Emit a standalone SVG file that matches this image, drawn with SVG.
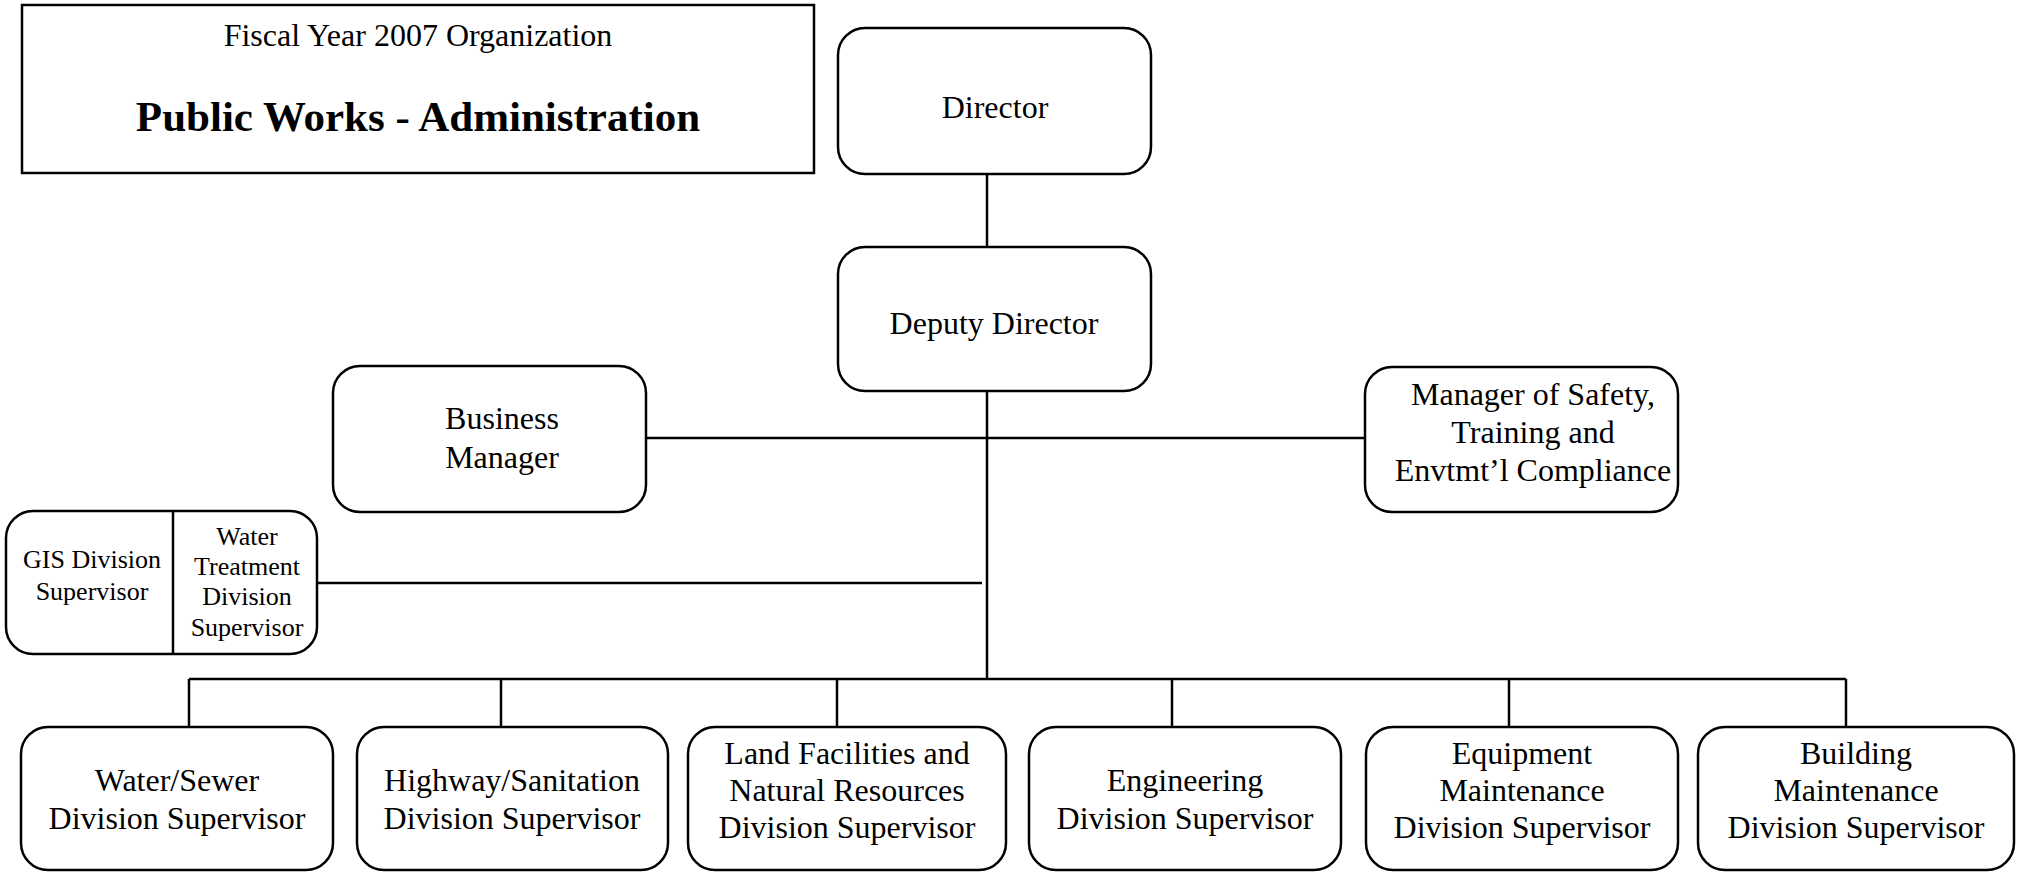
<svg xmlns="http://www.w3.org/2000/svg" width="2022" height="873" viewBox="0 0 2022 873">
<style>
.box{fill:#fff;stroke:#000;stroke-width:2.5}
.ln{stroke:#000;stroke-width:2.5;fill:none}
text{font-family:"Liberation Serif","Times New Roman",serif;fill:#000;text-anchor:middle}
.t{font-size:32px}
.s{font-size:26px}
</style>
<rect width="2022" height="873" fill="#fff"/>
<g id="connectors">
<line class="ln" x1="987" y1="174" x2="987" y2="247"/>
<line class="ln" x1="987" y1="391" x2="987" y2="679"/>
<line class="ln" x1="646" y1="438" x2="1365" y2="438"/>
<line class="ln" x1="317" y1="583" x2="982" y2="583"/>
<line class="ln" x1="189" y1="679" x2="1846" y2="679"/>
<line class="ln" x1="189" y1="679" x2="189" y2="727"/>
<line class="ln" x1="501" y1="679" x2="501" y2="727"/>
<line class="ln" x1="837" y1="679" x2="837" y2="727"/>
<line class="ln" x1="1172" y1="679" x2="1172" y2="727"/>
<line class="ln" x1="1509" y1="679" x2="1509" y2="727"/>
<line class="ln" x1="1846" y1="679" x2="1846" y2="727"/>
</g>
<g id="title">
<rect class="box" x="22" y="5" width="792" height="168"/>
<text x="418" y="46" class="t">Fiscal Year 2007 Organization</text>
<text x="418" y="131" style="font-size:43px;font-weight:bold">Public Works - Administration</text>
</g>
<g id="director">
<rect class="box" x="838" y="28" width="313" height="146" rx="27"/>
<text x="995" y="118" class="t">Director</text>
</g>
<g id="deputy">
<rect class="box" x="838" y="247" width="313" height="144" rx="27"/>
<text x="994" y="334" class="t">Deputy Director</text>
</g>
<g id="business">
<rect class="box" x="333" y="366" width="313" height="146" rx="27"/>
<text x="502" y="429" class="t">Business</text>
<text x="502" y="468" class="t">Manager</text>
</g>
<g id="safety">
<rect class="box" x="1365" y="367" width="313" height="145" rx="27"/>
<text x="1533" y="405" class="t">Manager of Safety,</text>
<text x="1533" y="443" class="t">Training and</text>
<text x="1533" y="481" class="t">Envtmt’l Compliance</text>
</g>
<g id="gis">
<rect class="box" x="6" y="511" width="311" height="143" rx="27"/>
<line class="ln" x1="173" y1="511" x2="173" y2="654"/>
<text x="92" y="568" class="s">GIS Division</text>
<text x="92" y="600" class="s">Supervisor</text>
<text x="247" y="545" class="s">Water</text>
<text x="247" y="575" class="s">Treatment</text>
<text x="247" y="605" class="s">Division</text>
<text x="247" y="636" class="s">Supervisor</text>
</g>
<g id="watersewer">
<rect class="box" x="21" y="727" width="312" height="143" rx="27"/>
<text x="177" y="791" class="t">Water/Sewer</text>
<text x="177" y="829" class="t">Division Supervisor</text>
</g>
<g id="highway">
<rect class="box" x="357" y="727" width="311" height="143" rx="27"/>
<text x="512" y="791" class="t">Highway/Sanitation</text>
<text x="512" y="829" class="t">Division Supervisor</text>
</g>
<g id="land">
<rect class="box" x="688" y="727" width="318" height="143" rx="27"/>
<text x="847" y="764" class="t">Land Facilities and</text>
<text x="847" y="801" class="t">Natural Resources</text>
<text x="847" y="838" class="t">Division Supervisor</text>
</g>
<g id="engineering">
<rect class="box" x="1029" y="727" width="312" height="143" rx="27"/>
<text x="1185" y="791" class="t">Engineering</text>
<text x="1185" y="829" class="t">Division Supervisor</text>
</g>
<g id="equipment">
<rect class="box" x="1366" y="727" width="312" height="143" rx="27"/>
<text x="1522" y="764" class="t">Equipment</text>
<text x="1522" y="801" class="t">Maintenance</text>
<text x="1522" y="838" class="t">Division Supervisor</text>
</g>
<g id="building">
<rect class="box" x="1698" y="727" width="316" height="143" rx="27"/>
<text x="1856" y="764" class="t">Building</text>
<text x="1856" y="801" class="t">Maintenance</text>
<text x="1856" y="838" class="t">Division Supervisor</text>
</g>
</svg>
